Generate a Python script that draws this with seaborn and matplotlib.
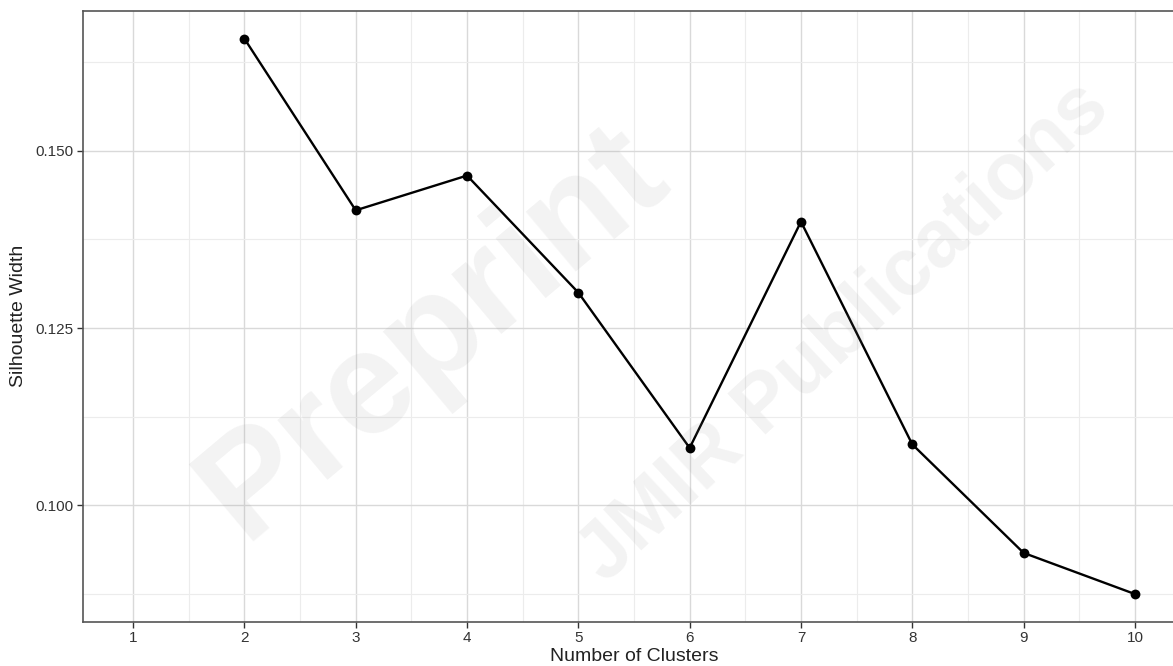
import numpy as np
import pandas as pd
import matplotlib.pyplot as plt
import seaborn as sns
from matplotlib.ticker import MultipleLocator

# ── Data ──────────────────────────────────────────────────────────
clusters   = [2, 3, 4, 5, 6, 7, 8, 9, 10]
silhouette = [0.1658, 0.1416, 0.1465, 0.1300, 0.1081, 0.1400, 0.1086, 0.0933, 0.0875]
x_ticks    = list(range(1, 11))
y_ticks    = [0.100, 0.125, 0.150]
y_labels   = ["0.100", "0.125", "0.150"]

df = pd.DataFrame({"k": clusters, "sil": silhouette})

sns.set_theme(style="white")
plt.rcParams['font.family'] = ['Liberation Sans', 'DejaVu Sans']

fig = plt.figure(figsize=(11.73, 6.66), dpi=100)
# panel runs past the right edge, as in the cropped reference
ax = fig.add_axes([83 / 1173, 44.3 / 666, 1102 / 1173, 610.7 / 666])

sns.lineplot(data=df, x="k", y="sil", color="black", linewidth=1.7, ax=ax, zorder=3)
sns.scatterplot(data=df, x="k", y="sil", color="black", s=50, edgecolor="black",
                linewidth=0, ax=ax, zorder=4)

# ggplot-like expansion
ax.set_xlim(0.55, 10.45)
ax.set_ylim(0.0836, 0.1697)
ax.set_xticks(x_ticks)
ax.set_yticks(y_ticks)
ax.set_yticklabels(y_labels)
ax.xaxis.set_minor_locator(MultipleLocator(0.5))
ax.yaxis.set_minor_locator(MultipleLocator(0.0125))

ax.grid(which="major", color="#d9d9d9", linewidth=1.0, zorder=0)
ax.grid(which="minor", color="#ececec", linewidth=0.8, zorder=0)
ax.set_axisbelow(True)

for s in ax.spines.values():
    s.set_color("#555555")
    s.set_linewidth(1.2)

ax.tick_params(axis="both", which="major", length=4, width=1, color="#333333",
               labelsize=11, labelcolor="#333333", direction="out", pad=3)
ax.tick_params(axis="both", which="minor", length=0)
ax.tick_params(bottom=True, left=True)

ax.set_xlabel("Number of Clusters", fontsize=14, color="#222222", labelpad=2)
ax.set_ylabel("Silhouette Width", fontsize=14, color="#222222", labelpad=6)

# faint watermark, kept inside the canvas
fig.text(0.37, 0.50, "Preprint", fontsize=105, fontweight="bold", color="#888888",
         alpha=0.10, rotation=40, ha="center", va="center", zorder=1)
fig.text(0.72, 0.50, "JMIR Publications", fontsize=58, fontweight="bold", color="#888888",
         alpha=0.10, rotation=43, ha="center", va="center", zorder=1)

fig.savefig("out.png", dpi=100)
